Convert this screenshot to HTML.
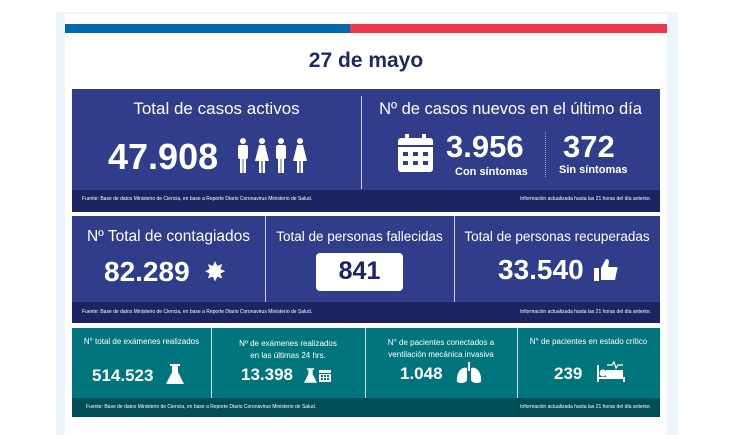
<!DOCTYPE html><html><head><style>
body{margin:0;width:733px;height:435px;background:#fff;font-family:"Liberation Sans",sans-serif;position:relative;overflow:hidden}
.a{position:absolute}
.bg{left:56px;top:12px;width:622px;height:423px;background:#eef4fb}
.card{left:65px;top:14px;width:602px;height:421px;background:#fff}
.w{color:#fff;text-align:center;white-space:nowrap}
.blue{background:#2f3d8b}
.dk{background:#1c2462}
.teal{background:#00767c}
.tdk{background:#004e55}
.f{font-size:5px;color:#fff}
.b{font-weight:bold}
</style></head><body>
<div class="a bg"></div><div class="a card"></div>
<div class="a" style="left:65px;top:24px;width:285px;height:9px;background:#0069ab"></div>
<div class="a" style="left:350px;top:24px;width:317px;height:9px;background:#ee364d"></div>
<div class="a b" style="left:65px;width:602px;top:49px;text-align:center;font-size:21px;color:#1e2a5e">27 de mayo</div>

<div class="a blue" style="left:72px;top:89px;width:588px;height:101px"></div>
<div class="a dk" style="left:72px;top:190px;width:588px;height:22px"></div>
<div class="a" style="left:361px;top:96px;width:1px;height:93px;background:#c9cde6"></div>
<div class="a w" style="left:72px;width:289px;top:99px;font-size:17px">Total de casos activos</div>
<div class="a w b" style="left:108px;top:136px;font-size:36px">47.908</div>
<svg class="a" style="left:236px;top:138px" width="76" height="36" viewBox="0 0 76 36" fill="#fff">
<g id="m"><circle cx="7" cy="3" r="3"/><rect x="2" y="7" width="10" height="14" rx="2"/><rect x="4" y="20" width="2.6" height="15"/><rect x="7.4" y="20" width="2.6" height="15"/></g>
<g transform="translate(19,0)"><circle cx="7" cy="3" r="3"/><path d="M4 7h6l4 16H0z"/><rect x="4" y="22" width="2.4" height="13"/><rect x="7.6" y="22" width="2.4" height="13"/></g>
<use href="#m" x="38"/>
<g transform="translate(57,0)"><circle cx="7" cy="3" r="3"/><path d="M4 7h6l4 16H0z"/><rect x="4" y="22" width="2.4" height="13"/><rect x="7.6" y="22" width="2.4" height="13"/></g>
</svg>
<div class="a w" style="left:361px;width:299px;top:100px;font-size:16.5px">Nº de casos nuevos en el último día</div>
<svg class="a" style="left:398px;top:134px" width="35" height="38" viewBox="0 0 35 38"><rect x="0" y="4" width="35" height="34" rx="3" fill="#fff"/><rect x="7" y="0" width="4" height="8" fill="#fff"/><rect x="24" y="0" width="4" height="8" fill="#fff"/><rect x="0" y="11" width="35" height="2" fill="#2f3d8b"/><g fill="#2f3d8b"><rect x="5" y="18" width="5" height="4"/><rect x="15" y="18" width="5" height="4"/><rect x="25" y="18" width="5" height="4"/><rect x="5" y="27" width="5" height="4"/><rect x="15" y="27" width="5" height="4"/><rect x="25" y="27" width="5" height="4"/></g></svg>
<div class="a w b" style="left:446px;top:129px;font-size:31px">3.956</div>
<div class="a w b" style="left:455px;top:166px;font-size:11px">Con síntomas</div>
<div class="a" style="left:545px;top:132px;width:1px;height:45px;border-left:1px dotted #aab"></div>
<div class="a w b" style="left:563px;top:129px;font-size:31px">372</div>
<div class="a w b" style="left:559px;top:164px;font-size:11px">Sin síntomas</div>
<div class="a f" style="left:82px;top:196px">Fuente: Base de datos Ministerio de Ciencia, en base a Reporte Diario Coronavirus Ministerio de Salud.</div>
<div class="a f" style="right:82px;top:196px">Información actualizada hasta las 21 horas del día anterior.</div>

<div class="a blue" style="left:72px;top:216px;width:588px;height:86px"></div>
<div class="a dk" style="left:72px;top:302px;width:588px;height:21px"></div>
<div class="a" style="left:265px;top:216px;width:1px;height:86px;background:#c9cde6"></div>
<div class="a" style="left:454px;top:216px;width:1px;height:86px;background:#c9cde6"></div>
<div class="a w" style="left:72px;width:193px;top:228px;font-size:15.5px">Nº Total de contagiados</div>
<div class="a w b" style="left:104px;top:256px;font-size:28px">82.289</div>
<div class="a w b" style="left:205px;top:258px;font-size:24px">✸</div>
<div class="a w" style="left:265px;width:189px;top:229px;font-size:13.5px">Total de personas fallecidas</div>
<div class="a" style="left:316px;top:253px;width:87px;height:38px;background:#fff;border-radius:4px"></div>
<div class="a b" style="left:316px;width:87px;top:257px;text-align:center;font-size:25px;color:#1c2462">841</div>
<div class="a w" style="left:454px;width:206px;top:229px;font-size:13.5px">Total de personas recuperadas</div>
<div class="a w b" style="left:498px;top:254px;font-size:28px">33.540</div>
<svg class="a" style="left:594px;top:259px" width="24" height="22" viewBox="0 0 24 22" fill="#fff"><rect x="0" y="9" width="5" height="13"/><path d="M7 9l5-9c2 0 3 1 3 3l-1 5h8c2 0 2 2 1 3l-2 10H7z"/></svg>
<div class="a f" style="left:82px;top:309px">Fuente: Base de datos Ministerio de Ciencia, en base a Reporte Diario Coronavirus Ministerio de Salud.</div>
<div class="a f" style="right:82px;top:309px">Información actualizada hasta las 21 horas del día anterior.</div>

<div class="a teal" style="left:72px;top:328px;width:588px;height:70px"></div>
<div class="a tdk" style="left:72px;top:398px;width:588px;height:19px"></div>
<div class="a" style="left:211px;top:328px;width:1px;height:70px;background:#bfe0e0"></div>
<div class="a" style="left:365px;top:328px;width:1px;height:70px;background:#bfe0e0"></div>
<div class="a" style="left:517px;top:328px;width:1px;height:70px;background:#bfe0e0"></div>
<div class="a w" style="left:72px;width:139px;top:337px;font-size:8px">N° total de exámenes realizados</div>
<div class="a w b" style="left:92px;top:366px;font-size:17px">514.523</div>
<svg class="a" style="left:166px;top:364px" width="18" height="20" viewBox="0 0 18 20" fill="#fff"><rect x="4" y="0" width="10" height="2"/><path d="M6 2h6v6l6 12H0l6-12z"/></svg>
<div class="a w" style="left:211px;width:154px;top:338px;font-size:8px;line-height:12px">Nº de exámenes realizados<br>en las últimas 24 hrs.</div>
<div class="a w b" style="left:241px;top:365px;font-size:17px">13.398</div>
<svg class="a" style="left:304px;top:368px" width="13" height="15" viewBox="0 0 18 20" fill="#fff"><rect x="4" y="0" width="10" height="2"/><path d="M6 2h6v6l6 12H0l6-12z"/></svg>
<svg class="a" style="left:319px;top:368px" width="12" height="14" viewBox="0 0 12 14" fill="#fff"><rect x="0" y="2" width="12" height="12"/><rect x="0" y="5" width="12" height="1" fill="#00767c"/><g fill="#00767c"><rect x="2" y="7" width="2" height="2"/><rect x="5" y="7" width="2" height="2"/><rect x="8" y="7" width="2" height="2"/><rect x="2" y="10" width="2" height="2"/><rect x="5" y="10" width="2" height="2"/><rect x="8" y="10" width="2" height="2"/></g></svg>
<div class="a w" style="left:365px;width:152px;top:337px;font-size:8px;line-height:12px">N° de pacientes conectados a<br>ventilación mecánica invasiva</div>
<div class="a w b" style="left:400px;top:364px;font-size:17px">1.048</div>
<svg class="a" style="left:456px;top:362px" width="26" height="22" viewBox="0 0 26 22" fill="#fff"><rect x="12" y="0" width="2" height="9"/><path d="M11 6C6 4 0 10 1 20c4 2 9 1 10-2z"/><path d="M15 6c5-2 11 4 10 14-4 2-9 1-10-2z"/></svg>
<div class="a w" style="left:517px;width:143px;top:337px;font-size:8px">N° de pacientes en estado crítico</div>
<div class="a w b" style="left:554px;top:364px;font-size:17px">239</div>
<svg class="a" style="left:597px;top:361px" width="28" height="22" viewBox="0 0 28 22" fill="none" stroke="#fff" stroke-width="2"><path d="M1 4v17M1 17h26v4"/><circle cx="6" cy="12" r="2.5" fill="#fff"/><path d="M10 10h15v6H10z" fill="#fff"/><path d="M10 4h5l2-3 2 6 2-3h5" stroke-width="1.2"/></svg>
<div class="a f" style="left:86px;top:404px">Fuente: Base de datos Ministerio de Ciencia, en base a Reporte Diario Coronavirus Ministerio de Salud.</div>
<div class="a f" style="right:82px;top:404px">Información actualizada hasta las 21 horas del día anterior.</div>
</body></html>
